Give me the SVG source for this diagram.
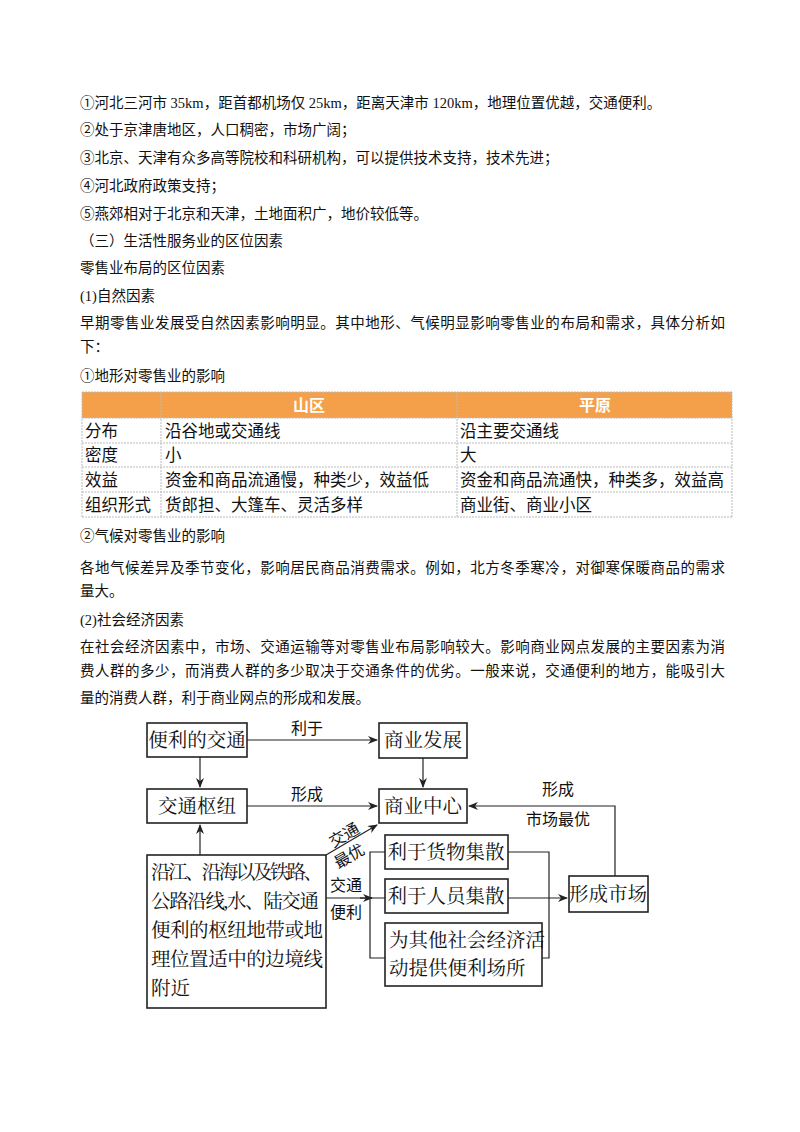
<svg xmlns="http://www.w3.org/2000/svg" width="800" height="1132" viewBox="0 0 800 1132">
<style>
.t{font-family:"Liberation Serif","Noto Sans CJK SC",serif;font-size:14.5px;fill:#111}
.tb{font-family:"Noto Sans CJK SC",sans-serif;font-size:16.5px;fill:#111}
.th{font-family:"Noto Sans CJK SC",sans-serif;font-size:16px;font-weight:bold;fill:#fff}
.g{stroke:#bbb;stroke-width:1;stroke-dasharray:2 1;fill:none}
.d{font-family:"Liberation Serif","Noto Serif CJK SC","Noto Sans CJK SC",serif;font-size:19.5px;fill:#111}
.dl{font-family:"Liberation Serif","Noto Sans CJK SC",serif;font-size:16px;fill:#111}
.b{fill:#fff;stroke:#222;stroke-width:1.6}
.c{stroke:#222;stroke-width:1.2;fill:none}
</style>
<defs><marker id="a" markerWidth="10" markerHeight="8" refX="9" refY="4" orient="auto" markerUnits="userSpaceOnUse"><path d="M0,0 L10,4 L0,8 L3,4Z" fill="#222"/></marker></defs>
<rect width="800" height="1132" fill="#fff"/>
<g id="text">
<text class="t" x="80" y="108">①河北三河市 35km，距首都机场仅 25km，距离天津市 120km，地理位置优越，交通便利。</text>
<text class="t" x="80" y="135">②处于京津唐地区，人口稠密，市场广阔；</text>
<text class="t" x="80" y="163">③北京、天津有众多高等院校和科研机构，可以提供技术支持，技术先进；</text>
<text class="t" x="80" y="191">④河北政府政策支持；</text>
<text class="t" x="80" y="219">⑤燕郊相对于北京和天津，土地面积广，地价较低等。</text>
<text class="t" x="80" y="246">（三）生活性服务业的区位因素</text>
<text class="t" x="80" y="273">零售业布局的区位因素</text>
<text class="t" x="80" y="301">(1)自然因素</text>
<text class="t" x="80" y="328" textLength="645">早期零售业发展受自然因素影响明显。其中地形、气候明显影响零售业的布局和需求，具体分析如</text>
<text class="t" x="80" y="352">下：</text>
<text class="t" x="80" y="381">①地形对零售业的影响</text>
<text class="t" x="80" y="541">②气候对零售业的影响</text>
<text class="t" x="80" y="573" textLength="645">各地气候差异及季节变化，影响居民商品消费需求。例如，北方冬季寒冷，对御寒保暖商品的需求</text>
<text class="t" x="80" y="596">量大。</text>
<text class="t" x="80" y="625">(2)社会经济因素</text>
<text class="t" x="80" y="652" textLength="645">在社会经济因素中，市场、交通运输等对零售业布局影响较大。影响商业网点发展的主要因素为消</text>
<text class="t" x="80" y="676" textLength="645">费人群的多少，而消费人群的多少取决于交通条件的优劣。一般来说，交通便利的地方，能吸引大</text>
<text class="t" x="80" y="703">量的消费人群，利于商业网点的形成和发展。</text>
</g>
<g id="table">
<rect x="82" y="392" width="650" height="26" fill="#F4A04A"/>
<text class="th" x="309" y="411" text-anchor="middle">山区</text>
<text class="th" x="595" y="411" text-anchor="middle">平原</text>
<path class="g" d="M82,392H732M82,418H732M82,443H732M82,467H732M82,492H732M82,517H732M82,392V517M161,392V517M457,392V517M732,392V517"/>
<text class="tb" x="85" y="437">分布</text><text class="tb" x="165" y="437">沿谷地或交通线</text><text class="tb" x="460" y="437">沿主要交通线</text>
<text class="tb" x="85" y="461">密度</text><text class="tb" x="165" y="461">小</text><text class="tb" x="460" y="461">大</text>
<text class="tb" x="85" y="486">效益</text><text class="tb" x="165" y="486">资金和商品流通慢，种类少，效益低</text><text class="tb" x="460" y="486">资金和商品流通快，种类多，效益高</text>
<text class="tb" x="85" y="511">组织形式</text><text class="tb" x="165" y="511">货郎担、大篷车、灵活多样</text><text class="tb" x="460" y="511">商业街、商业小区</text>
</g>
<g id="connectors">
<path class="c" d="M247,740H377" marker-end="url(#a)"/>
<path class="c" d="M200,757V787" marker-end="url(#a)"/>
<path class="c" d="M423,758V787" marker-end="url(#a)"/>
<path class="c" d="M247,806H377" marker-end="url(#a)"/>
<path class="c" d="M200,855V825" marker-end="url(#a)"/>
<path class="c" d="M326,855L377,825" marker-end="url(#a)"/>
<path class="c" d="M326,898H370"/>
<path class="c" d="M360,898H372" marker-end="url(#a)"/>
<path class="c" d="M385,852H370V958H385M370,898H385"/>
<path class="c" d="M508,852H549V958H542"/>
<path class="c" d="M508,898H567" marker-end="url(#a)"/>
<path class="c" d="M615,876V806H469" marker-end="url(#a)"/>
<text class="dl" x="307" y="734" text-anchor="middle">利于</text>
<text class="dl" x="307" y="800" text-anchor="middle">形成</text>
<text class="dl" x="558" y="795" text-anchor="middle">形成</text>
<text class="dl" x="558" y="825" text-anchor="middle">市场最优</text>
<text class="dl" x="347" y="840" text-anchor="middle" transform="rotate(-30 347 840)">交通</text>
<text class="dl" x="352" y="861" text-anchor="middle" transform="rotate(-30 352 861)">最优</text>
<text class="dl" x="346" y="891" text-anchor="middle">交通</text>
<text class="dl" x="346" y="918" text-anchor="middle">便利</text>
</g>
<g id="n1"><rect class="b" x="147" y="723" width="100" height="34"/><text class="d" x="197" y="747" text-anchor="middle">便利的交通</text></g>
<g id="n2"><rect class="b" x="379" y="723" width="88" height="35"/><text class="d" x="423" y="747" text-anchor="middle">商业发展</text></g>
<g id="n3"><rect class="b" x="147" y="789" width="100" height="34"/><text class="d" x="197" y="813" text-anchor="middle">交通枢纽</text></g>
<g id="n4"><rect class="b" x="379" y="789" width="88" height="34"/><text class="d" x="423" y="813" text-anchor="middle">商业中心</text></g>
<g id="n5"><rect class="b" x="147" y="855" width="179" height="153"/>
<text class="d" x="151" y="879" textLength="172">沿江、沿海以及铁路、</text>
<text class="d" x="151" y="908" textLength="168">公路沿线,水、陆交通</text>
<text class="d" x="151" y="937" textLength="172">便利的枢纽地带或地</text>
<text class="d" x="151" y="966" textLength="172">理位置适中的边境线</text>
<text class="d" x="151" y="995">附近</text></g>
<g id="n6"><rect class="b" x="385" y="835" width="123" height="34"/><text class="d" x="446" y="859" text-anchor="middle">利于货物集散</text></g>
<g id="n7"><rect class="b" x="385" y="879" width="123" height="34"/><text class="d" x="446" y="903" text-anchor="middle">利于人员集散</text></g>
<g id="n8"><rect class="b" x="385" y="923" width="157" height="63"/><text class="d" x="389" y="947">为其他社会经济活</text><text class="d" x="389" y="975">动提供便利场所</text></g>
<g id="n9"><rect class="b" x="569" y="876" width="79" height="36"/><text class="d" x="608" y="901" text-anchor="middle">形成市场</text></g>
</svg>
